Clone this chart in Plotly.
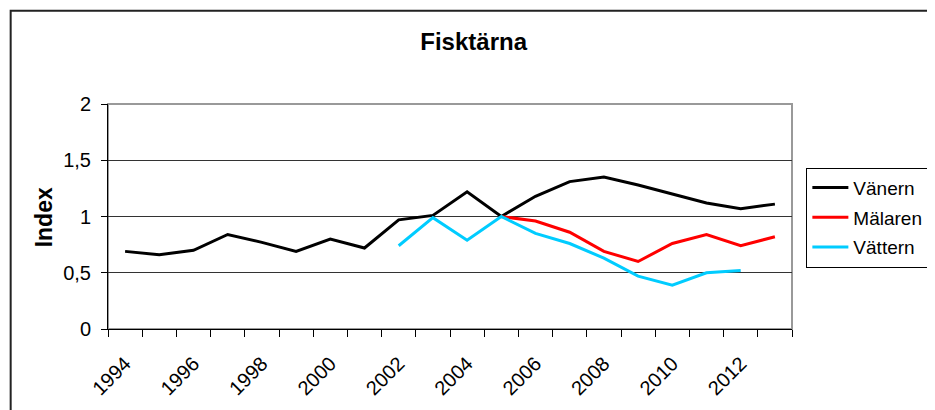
import plotly.graph_objects as go

years = list(range(1994, 2014))

vanern = [0.69, 0.66, 0.70, 0.84, 0.77, 0.69, 0.80, 0.72, 0.97, 1.01,
          1.22, 1.00, 1.18, 1.31, 1.35, 1.28, 1.20, 1.12, 1.07, 1.11]
malaren = [None, None, None, None, None, None, None, None, None, None,
           None, 1.00, 0.96, 0.86, 0.69, 0.60, 0.76, 0.84, 0.74, 0.82]
vattern = [None, None, None, None, None, None, None, None, 0.74, 0.99,
           0.79, 1.00, 0.85, 0.76, 0.63, 0.47, 0.39, 0.50, 0.52, None]

tick_years = list(range(1994, 2013, 2))

FONT = "Arial, Liberation Sans, sans-serif"

fig = go.Figure()

for name, values, color in [
    ("Vänern", vanern, "#000000"),
    ("Mälaren", malaren, "#ff0000"),
    ("Vättern", vattern, "#00ccff"),
]:
    fig.add_trace(
        go.Scatter(
            x=years,
            y=values,
            mode="lines",
            name=name,
            legendgroup=name,
            line=dict(color=color, width=3),
            connectgaps=False,
        )
    )

# the page puts the figure 8px in from the top-left corner
fig.update_layout(
    width=935,
    height=410,
    margin=dict(l=100, r=151, t=96, b=89, autoexpand=False),
    paper_bgcolor="white",
    plot_bgcolor="white",
    separators=", ",
    font=dict(family=FONT, size=20, color="black"),
    title=dict(
        text="<b>Fisktärna</b>",
        font=dict(size=24, family=FONT, color="black"),
        x=0.498,
        xref="container",
        xanchor="center",
        y=0.918,
        yref="container",
        yanchor="middle",
    ),
    legend=dict(
        x=1.021,
        y=0.717,
        xanchor="left",
        yanchor="top",
        bordercolor="black",
        borderwidth=1,
        bgcolor="white",
        font=dict(size=19, family=FONT),
        tracegroupgap=2,
        itemwidth=36,
    ),
    showlegend=True,
)

fig.update_xaxes(
    range=[1993.5, 2013.5],
    tickmode="array",
    tickvals=tick_years,
    ticktext=[str(y) for y in tick_years],
    tickangle=-45,
    ticks="",
    ticklabelstandoff=14,
    showgrid=False,
    zeroline=False,
    showline=True,
    linecolor="black",
    linewidth=1,
    tickfont=dict(size=20, family=FONT),
    minor=dict(ticks="outside", tick0=1993.5, dtick=1, ticklen=7,
               tickcolor="black", showgrid=False),
)

fig.update_yaxes(
    range=[0, 2],
    dtick=0.5,
    ticks="outside",
    ticklen=6,
    tickcolor="black",
    ticklabelstandoff=6,
    showgrid=True,
    gridcolor="#333333",
    gridwidth=1,
    zeroline=False,
    showline=True,
    linecolor="black",
    linewidth=1,
    tickfont=dict(size=20, family=FONT),
)

# plot area frame (top/right grey), outer chart border
fig.add_shape(type="rect", xref="paper", yref="paper", x0=0, x1=1, y0=0, y1=1,
              line=dict(color="#999999", width=2), layer="below")
fig.add_shape(type="rect", xref="paper", yref="paper",
              x0=-0.1423, x1=1.25, y0=-0.45, y1=1.4147,
              line=dict(color="#222222", width=2))

fig.add_annotation(
    text="<b>Index</b>",
    xref="paper", yref="paper",
    x=-0.094, y=0.495,
    textangle=-90,
    showarrow=False,
    font=dict(size=23, family=FONT, color="black"),
    xanchor="center", yanchor="middle",
)

fig.write_html("out.html")
